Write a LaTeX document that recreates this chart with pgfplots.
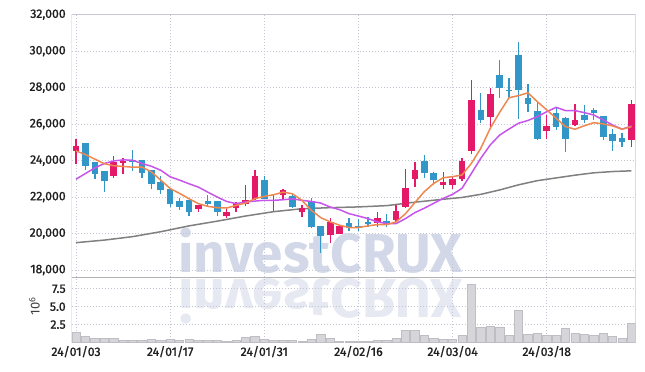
\documentclass[border=0pt]{standalone}
\usepackage{pgfplots}
\pgfplotsset{compat=1.18}
\usepackage{pgfplotstable}
\usepackage{fontspec}
\setmainfont{Fira Sans}
\newfontfamily\tickfont{Fira Sans}[FakeBold=1.2]

\definecolor{upred}{RGB}{228,26,104}
\definecolor{dnblue}{RGB}{51,150,200}
\definecolor{maor}{RGB}{238,136,80}
\definecolor{mapu}{RGB}{200,85,235}
\definecolor{magr}{RGB}{128,128,128}
\definecolor{volf}{RGB}{214,214,218}
\definecolor{vold}{RGB}{190,190,196}
\definecolor{gridc}{RGB}{196,200,214}
\definecolor{bordc}{RGB}{200,200,208}
\definecolor{wm}{RGB}{210,216,232}
\definecolor{wmr}{RGB}{230,233,242}

% up (red) candles: index open high low close
\pgfplotstableread{
i o h l c
0 24550 25200 23800 24800
4 23150 24250 23050 23950
5 23870 24160 23240 23980
13 21350 21580 21180 21550
16 20950 21420 20870 21180
17 21420 21730 21180 21600
18 21600 22640 21490 21820
19 21910 23490 21850 23180
21 21780 22140 21220 21860
22 22100 22460 21900 22380
24 21200 21570 20890 21420
27 19920 20840 19470 20620
28 19960 20450 19950 20430
32 20600 21200 20380 20840
34 20740 21570 20650 21240
35 21470 23520 21380 22480
36 22980 23940 22540 23490
39 22680 23360 22430 22830
40 22660 23120 22440 22990
41 22990 24160 22900 23980
42 24530 28420 24360 27320
44 26410 27970 25860 27650
50 25640 26500 25170 25900
53 25970 27100 25900 26230
59 25130 27320 24760 27100
}\upc

% down (blue) candles
\pgfplotstableread{
i o h l c
1 24950 24950 23500 23700
2 23950 23950 23000 23250
3 23450 23450 22300 22900
6 24050 24560 23440 23960
7 24050 24060 23050 23330
8 23470 23500 22450 22730
9 22820 23150 22150 22380
10 22440 22440 21470 21640
11 21780 21960 21290 21450
12 21820 21820 20950 21180
14 21760 22130 21500 21600
15 21760 21800 20950 21180
20 22910 23180 21900 21910
23 22060 22210 21380 21450
25 21800 21930 20300 20380
26 20410 20420 18950 19870
29 20560 20840 20160 20290
30 20430 20780 20160 20340
31 20620 20890 20380 20520
33 20690 21060 20380 20560
37 23980 24310 23060 23340
38 23340 23400 22660 22940
43 26780 27690 26050 26230
45 28690 29520 27450 27970
46 27870 28550 27420 27830
47 29790 30490 26280 27870
48 27420 28180 26680 27100
49 26720 27140 25150 25190
51 26630 26870 25680 25860
52 26340 26400 24490 25200
54 26500 27050 26050 26230
55 26780 26890 26230 26630
56 26450 26460 25130 25310
57 25460 25720 24540 25080
58 25240 25500 24760 25020
}\dnc

% moving averages: index short(orange) mid(purple)
\pgfplotstableread{
i s m
0 24530 22980
1 24330 23290
2 24080 23600
3 23830 23840
4 23720 23980
5 23680 24040
6 23640 24020
7 23650 23840
8 23380 23690
9 22930 23470
10 22470 23110
11 22200 22930
12 21910 22730
13 21640 22545
14 21490 22270
15 21420 22000
16 21400 21760
17 21545 21640
18 21670 21730
19 21910 21780
20 22040 21820
21 22130 21820
22 22270 21855
23 22180 21900
24 21820 21820
25 21270 21760
26 20870 21670
27 20640 21455
28 20455 21310
29 20330 21090
30 20330 20960
31 20420 20820
32 20490 20640
33 20490 20545
34 20640 20545
35 21090 20820
36 21700 21150
37 22300 21390
38 22750 21660
39 23060 21930
40 23120 22150
41 23210 22480
42 23850 23300
43 24680 24130
44 25770 24860
45 26650 25400
46 27450 25730
47 27560 26050
48 27720 26200
49 27230 26410
50 26780 26680
51 26320 26920
52 25860 26740
53 25720 26740
54 25910 26630
55 26080 26500
56 26010 26230
57 25900 25950
58 25720 25720
59 25860 25900
}\mas

% long moving average (grey)
\pgfplotstableread{
i g
0 19500
3 19640
6 19830
9 20100
12 20420
15 20680
18 20960
21 21200
24 21360
27 21420
30 21460
33 21530
36 21720
39 21880
41 21980
43 22150
45 22390
47 22670
49 22900
51 23050
53 23200
55 23330
57 23400
59 23440
}\mal

% volume (millions)
\pgfplotstableread{
i v
0 1.40
1 0.85
2 0.57
3 0.57
4 0.57
5 0.30
6 0.30
7 0.25
8 0.44
9 0.30
10 0.48
11 0.34
12 0.44
13 0.30
14 0.30
15 0.30
16 0.16
17 0.30
18 0.71
19 0.85
20 0.44
21 0.30
22 0.30
23 0.30
24 0.16
25 0.44
26 1.12
27 0.57
28 0.16
29 0.16
30 0.16
31 0.16
32 0.30
33 0.30
34 0.57
35 1.67
36 1.67
37 0.99
38 0.57
39 0.44
40 0.44
41 0.99
42 8.10
43 2.09
44 2.22
45 2.09
46 0.99
47 4.43
48 1.12
49 1.26
50 0.99
51 0.99
52 1.95
53 1.26
54 1.12
55 0.99
56 1.26
57 0.85
58 0.57
59 2.64
}\vol

\pgfplotsset{
  base/.style={
    scale only axis, width=563.8bp,
    xmin=-0.46, xmax=59.43,
    axis line style={draw=none},
    major tick length=0pt,
    xtick={0,10,20,30,40,50},
    grid=major,
    grid style={gridc, dash pattern=on 1bp off 2bp, line width=0.7bp},
    tick label style={font=\tickfont\fontsize{12.3}{13}\selectfont, text=black!88},
    /pgf/number format/assume math mode=true,
    scaled y ticks=false,
  },
  wick/.style={draw=none, no markers, forget plot,
    error bars/.cd, y dir=both, y explicit, error mark=none,
    error bar style={line width=1.3bp, draw=#1, solid}},
  body/.style={draw=none, no markers, forget plot,
    error bars/.cd, y dir=both, y explicit, error mark=none,
    error bar style={line width=6.6bp, draw=#1, solid}},
}

\begin{document}
\begin{tikzpicture}[x=1bp,y=1bp]
\useasboundingbox (0,0) rectangle (645,-371);
\fill[white] (0,0) rectangle (645,-371);

% watermark and its reflection
\node[font=\fontsize{55}{55}\selectfont\bfseries, text=wm, anchor=base, inner sep=0pt] at (320.5,-272) {investCRUX};
\node[font=\fontsize{55}{55}\selectfont\bfseries, text=wmr, anchor=base, inner sep=0pt, yscale=-1] at (320.5,-279) {investCRUX};

% price panel
\begin{axis}[base,
  at={(71.7bp,-14.7bp)}, anchor=north west,
  height=262.6bp,
  ymin=17600, ymax=32000,
  ytick={18000,20000,22000,24000,26000,28000,30000,32000},
  yticklabel style={xshift=-2.5bp, /pgf/number format/fixed, /pgf/number format/1000 sep={,}},
  xticklabels={},
]
\addplot[magr, line width=1.5bp] table[x=i, y=g] {\mal};

\addplot[wick=upred] table[x=i, y expr={(\thisrow{h}+\thisrow{l})/2}, y error expr={(\thisrow{h}-\thisrow{l})/2}] {\upc};
\addplot[body=upred] table[x=i, y expr={(\thisrow{o}+\thisrow{c})/2}, y error expr={max(abs(\thisrow{c}-\thisrow{o})/2,45)}] {\upc};
\addplot[wick=dnblue] table[x=i, y expr={(\thisrow{h}+\thisrow{l})/2}, y error expr={(\thisrow{h}-\thisrow{l})/2}] {\dnc};
\addplot[body=dnblue] table[x=i, y expr={(\thisrow{o}+\thisrow{c})/2}, y error expr={max(abs(\thisrow{c}-\thisrow{o})/2,45)}] {\dnc};

\addplot[mapu, line width=1.5bp] table[x=i, y=m] {\mas};
\addplot[maor, line width=1.5bp] table[x=i, y=s] {\mas};

\draw[bordc, line width=0.8bp] (rel axis cs:0,0) -- (rel axis cs:0,1) -- (rel axis cs:1,1) -- (rel axis cs:1,0);
\draw[black!30, line width=0.9bp] (rel axis cs:0,0) -- (rel axis cs:1,0);
\end{axis}

% volume panel
\begin{axis}[base,
  at={(71.7bp,-277.3bp)}, anchor=north west,
  height=65.2bp,
  ymin=0, ymax=9.1,
  ytick={2.5,5,7.5},
  yticklabel style={xshift=-2.5bp, /pgf/number format/fixed, /pgf/number format/fixed zerofill, /pgf/number format/precision=1},
  xticklabels={24/01/03,24/01/17,24/01/31,24/02/16,24/03/04,24/03/18},
  ylabel={10\textsuperscript{6}},
  every axis y label/.style={at={(axis description cs:-0.066,0.56)}, rotate=90, anchor=center, font=\fontsize{13}{14}\selectfont, text=black!75},
]
\addplot[ybar, bar width=8.3bp, fill=volf, draw=vold, line width=0.6bp] table[x=i, y=v] {\vol};
\draw[bordc, line width=0.8bp] (rel axis cs:0,0) -- (rel axis cs:0,1);
\draw[bordc, line width=0.8bp] (rel axis cs:1,0) -- (rel axis cs:1,1);
\end{axis}
\end{tikzpicture}
\end{document}
